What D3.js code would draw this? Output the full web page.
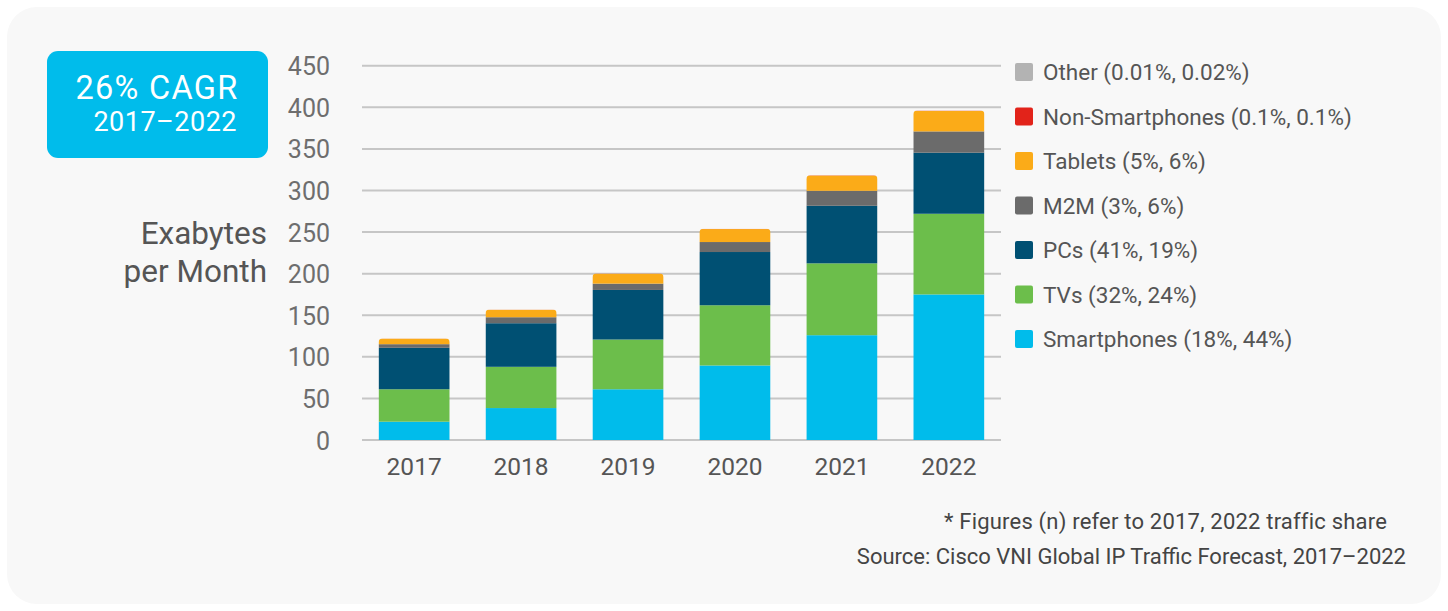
<!DOCTYPE html>
<html>
<head>
<meta charset="utf-8">
<script src="https://cdn.jsdelivr.net/npm/d3@7"></script>
<style>
  html, body { margin: 0; padding: 0; background: #ffffff; }
  svg { display: block; }
  text { font-family: Roboto, "Noto Sans", sans-serif; }
</style>
</head>
<body>
<svg id="chart" width="1448" height="611"></svg>
<script>
// ---- data ----
const years = ["2017", "2018", "2019", "2020", "2021", "2022"];
const seriesNames = ["Smartphones", "TVs", "PCs", "M2M", "Tablets", "Non-Smartphones", "Other"];
const legendLabels = [
  "Other (0.01%, 0.02%)",
  "Non-Smartphones (0.1%, 0.1%)",
  "Tablets (5%, 6%)",
  "M2M (3%, 6%)",
  "PCs (41%, 19%)",
  "TVs (32%, 24%)",
  "Smartphones (18%, 44%)"
];
const smartphones    = [22, 38.4, 61, 89.6, 126, 175];
const tvs            = [39, 49.6, 59.8, 72.4, 86.4, 97];
const pcs            = [49.8, 52.4, 59.6, 64, 69.2, 73.4];
const m2m            = [4.4, 7.2, 7.6, 12, 18, 25.6];
const tablets        = [6.8, 9, 12, 15.6, 18.4, 24.6];
const nonSmartphones = [0.12, 0.16, 0.2, 0.25, 0.32, 0.4];
const other          = [0.01, 0.02, 0.03, 0.05, 0.06, 0.08];
const yTicks = [0, 50, 100, 150, 200, 250, 300, 350, 400, 450];

const colors = {
  "Smartphones": "#00bceb",
  "TVs": "#6cbe4b",
  "PCs": "#005073",
  "M2M": "#6b6b6b",
  "Tablets": "#fbab18",
  "Non-Smartphones": "#e2231a",
  "Other": "#b3b3b3"
};
const legendKeys = ["Other", "Non-Smartphones", "Tablets", "M2M", "PCs", "TVs", "Smartphones"];

const seriesValues = {
  "Smartphones": smartphones, "TVs": tvs, "PCs": pcs, "M2M": m2m,
  "Tablets": tablets, "Non-Smartphones": nonSmartphones, "Other": other
};
const table = years.map((yr, i) => {
  const row = { year: yr };
  seriesNames.forEach(s => row[s] = seriesValues[s][i]);
  return row;
});

// ---- drawing ----
const svg = d3.select("#chart");

// panel background
svg.append("rect")
  .attr("x", 7).attr("y", 7).attr("width", 1434).attr("height", 597)
  .attr("rx", 30).attr("ry", 30)
  .attr("fill", "#f8f8f8");

const x = d3.scaleBand().domain(years).range([362, 1001]).paddingInner(0.335).paddingOuter(0.155);
const y = d3.scaleLinear().domain([0, 450]).range([440, 65.7]);

// gridlines
svg.append("g").selectAll("line").data(yTicks).join("line")
  .attr("x1", 362).attr("x2", 1001)
  .attr("y1", d => y(d)).attr("y2", d => y(d))
  .attr("stroke", "#c6c6c6").attr("stroke-width", 2);

// y tick labels
const yAxis = d3.axisLeft(y).tickValues(yTicks).tickSize(0).tickPadding(0);
const gy = svg.append("g").attr("transform", "translate(330,0)").call(yAxis);
gy.select(".domain").remove();
gy.selectAll("text").attr("font-size", 25).attr("fill", "#6e6e6e")
  .attr("font-family", "Roboto, sans-serif").attr("dy", "0.36em");

// x labels
const xAxis = d3.axisBottom(x).tickSize(0).tickPadding(0);
const gx = svg.append("g").attr("transform", "translate(0,466)").call(xAxis);
gx.select(".domain").remove();
gx.selectAll("text").attr("font-size", 24.5).attr("fill", "#555555")
  .attr("font-family", "Roboto, sans-serif").attr("dy", "0.36em");

// stacked bars
const stack = d3.stack().keys(seriesNames);
const stacked = stack(table);

const defs = svg.append("defs");
years.forEach((yr, i) => {
  const top = d3.sum(seriesNames, s => seriesValues[s][i]);
  defs.append("clipPath").attr("id", "clip" + yr)
    .append("rect")
    .attr("x", x(yr)).attr("y", y(top))
    .attr("width", x.bandwidth()).attr("height", y(0) - y(top) + 10)
    .attr("rx", 4).attr("ry", 4);
});

const barG = svg.append("g");
years.forEach((yr, i) => {
  const g = barG.append("g").attr("clip-path", `url(#clip${yr})`);
  stacked.forEach(layer => {
    const d = layer[i];
    g.append("rect")
      .attr("x", x(yr))
      .attr("y", y(d[1]))
      .attr("width", x.bandwidth())
      .attr("height", Math.max(0, y(d[0]) - y(d[1])))
      .attr("fill", colors[layer.key]);
  });
});

// y-axis title
const yt = svg.append("text").attr("text-anchor", "end").attr("fill", "#555555")
  .attr("font-size", 31.5).attr("font-family", "Roboto, sans-serif");
yt.append("tspan").attr("x", 267).attr("y", 244).text("Exabytes");
yt.append("tspan").attr("x", 267).attr("y", 282).text("per Month");

// CAGR box
svg.append("rect").attr("x", 47).attr("y", 51).attr("width", 221).attr("height", 107)
  .attr("rx", 11).attr("ry", 11).attr("fill", "#00bceb");
svg.append("text").attr("x", 157).attr("y", 99).attr("text-anchor", "middle")
  .attr("fill", "#ffffff").attr("font-size", 32.5).attr("letter-spacing", 1.3).text("26% CAGR");
svg.append("text").attr("x", 237).attr("y", 131).attr("text-anchor", "end")
  .attr("fill", "#ffffff").attr("font-size", 27).attr("letter-spacing", 0.5).text("2017\u20132022");

// legend
const legendY = d3.scalePoint().domain(legendKeys).range([72, 339]);
const lg = svg.append("g");
legendKeys.forEach((k, i) => {
  const cy = legendY(k);
  lg.append("rect").attr("x", 1015).attr("y", cy - 9).attr("width", 18).attr("height", 18)
    .attr("rx", 2).attr("fill", colors[k]);
  lg.append("text").attr("x", 1043).attr("y", cy).attr("dy", "0.36em")
    .attr("font-size", 22.5).attr("fill", "#555555").text(legendLabels[i]);
});

// footnotes
svg.append("text").attr("x", 1387).attr("y", 529).attr("text-anchor", "end")
  .attr("font-size", 22).attr("letter-spacing", 0.2).attr("fill", "#444444").text("* Figures (n) refer to 2017, 2022 traffic share");
svg.append("text").attr("x", 1406).attr("y", 564).attr("text-anchor", "end")
  .attr("font-size", 22).attr("fill", "#444444").text("Source: Cisco VNI Global IP Traffic Forecast, 2017\u20132022");
</script>
</body>
</html>
